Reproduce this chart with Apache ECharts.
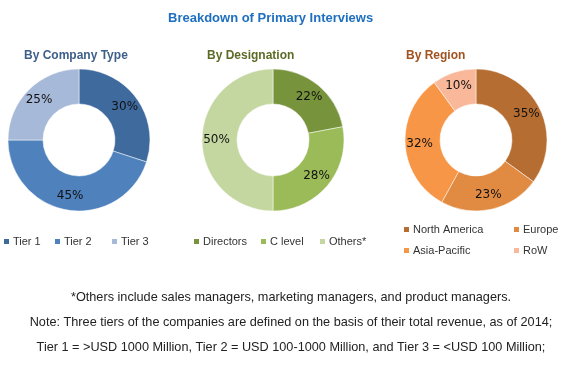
<!DOCTYPE html>
<html>
<head>
<meta charset="utf-8">
<script src="https://cdn.jsdelivr.net/npm/echarts@6/dist/echarts.min.js"></script>
<style>
html,body{margin:0;padding:0;background:#fff;}
#chart{width:563px;height:382px;}
</style>
</head>
<body>
<div id="chart"></div>
<script>
// ---- data ----
var companyTypes = ['Tier 1', 'Tier 2', 'Tier 3'];
var companyValues = [30, 45, 25];
var designations = ['Directors', 'C level', 'Others*'];
var designationValues = [22, 28, 50];
var regions = ['North America', 'Europe', 'Asia-Pacific', 'RoW'];
var regionValues = [35, 23, 32, 10];
var mainTitle = 'Breakdown of Primary Interviews';
var subTitles = ['By Company Type', 'By Designation', 'By Region'];
var notes = [
  '*Others include sales managers, marketing managers, and product managers.',
  'Note: Three tiers of the companies are defined on the basis of their total revenue, as of 2014;',
  'Tier 1 = >USD 1000 Million, Tier 2 = USD 100-1000 Million, and Tier 3 = <USD 100 Million;'
];

var companyColors = ['#3F6A9E', '#4F81BD', '#A7B9D8'];
var designationColors = ['#77933C', '#9BBB59', '#C4D7A0'];
var regionColors = ['#B66D31', '#E08A42', '#F79646', '#F9B899'];

function mk(names, values, colors) {
  return names.map(function (n, i) {
    return { name: n, value: values[i], itemStyle: { color: colors[i] } };
  });
}

var font = 'Liberation Sans, Arial, sans-serif';
var labelStyle = {
  show: true, position: 'inside', formatter: '{c}%',
  color: '#111', fontSize: 12, fontFamily: 'DejaVu Sans, sans-serif'
};

function pie(center, data) {
  return {
    type: 'pie', radius: [36, 71], center: center, startAngle: 90,
    clockwise: true, silent: true, animation: false,
    label: labelStyle, labelLine: { show: false },
    itemStyle: { borderColor: '#fff', borderWidth: 0.5 },
    data: data
  };
}

function legend(name, left, top) {
  return {
    data: [name], left: left, top: top, orient: 'horizontal',
    icon: 'rect', itemWidth: 7, itemHeight: 7, itemGap: 0, padding: 0,
    selectedMode: false,
    textStyle: { fontSize: 11, color: '#333', fontFamily: font, padding: [0, 0, 0, -2] }
  };
}

var legendSpecs = [
  [companyTypes[0], 2, 236], [companyTypes[1], 53, 236], [companyTypes[2], 110, 236],
  [designations[0], 192, 236], [designations[1], 259, 236], [designations[2], 318, 236],
  [regions[0], 402, 224], [regions[1], 512, 224], [regions[2], 402, 245], [regions[3], 512, 245]
];

var option = {
  backgroundColor: '#fff',
  animation: false,
  title: [
    { text: mainTitle, left: 163, top: 7,
      textStyle: { fontSize: 13, fontWeight: 'bold', color: '#1F6FBF', fontFamily: font } },
    { text: subTitles[0], left: 19, top: 45,
      textStyle: { fontSize: 12, fontWeight: 'bold', color: '#3E5F8A', fontFamily: font } },
    { text: subTitles[1], left: 202, top: 45,
      textStyle: { fontSize: 12, fontWeight: 'bold', color: '#5C6B27', fontFamily: font } },
    { text: subTitles[2], left: 401, top: 45,
      textStyle: { fontSize: 12, fontWeight: 'bold', color: '#A0521F', fontFamily: font } }
  ],
  legend: legendSpecs.map(function (s) { return legend(s[0], s[1], s[2]); }),
  series: [
    pie([79, 140], mk(companyTypes, companyValues, companyColors)),
    pie([273, 140], mk(designations, designationValues, designationColors)),
    pie([476, 140], mk(regions, regionValues, regionColors))
  ],
  graphic: notes.map(function (t, i) {
    return {
      type: 'text', x: 291, y: 297 + i * 25,
      style: { text: t, fontSize: 12.7, fill: '#222', fontFamily: font,
               textAlign: 'center', textVerticalAlign: 'middle' }
    };
  })
};

var chart = echarts.init(document.getElementById('chart'), null, { renderer: 'canvas' });
chart.setOption(option);
</script>
</body>
</html>
